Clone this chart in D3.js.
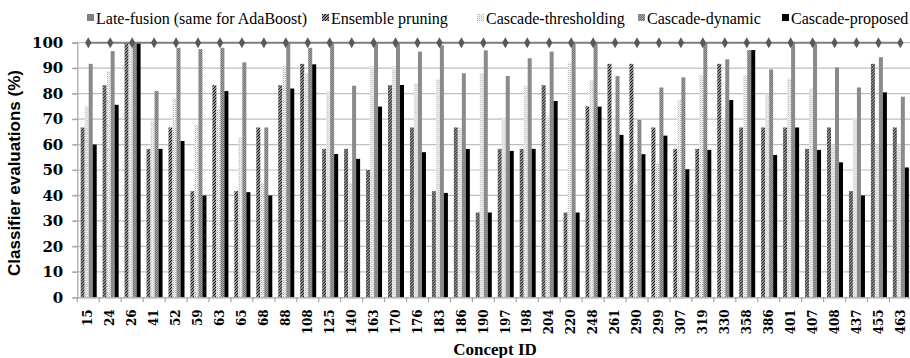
<!DOCTYPE html>
<html><head><meta charset="utf-8">
<script src="https://cdn.jsdelivr.net/npm/d3@7"></script>
<style>body{margin:0;background:#fff}svg{display:block}</style>
</head><body>
<svg id="chart" width="910" height="358"></svg>
<script>
const categories = ["15","24","26","41","52","59","63","65","68","88","108","125","140","163","170","176","183","186","190","197","198","204","220","248","261","290","299","307","319","330","358","386","401","407","408","437","455","463"];
const lateFusion = [100,100,100,100,100,100,100,100,100,100,100,100,100,100,100,100,100,100,100,100,100,100,100,100,100,100,100,100,100,100,100,100,100,100,100,100,100,100];
const ensemblePruning = [66.7,83.3,100,58.3,66.7,41.7,83.3,41.7,66.7,83.3,91.7,58.3,58.3,50,83.3,66.7,41.7,66.7,33.3,58.3,58.3,83.3,33.3,75,91.7,91.7,66.7,58.3,58.3,91.7,66.7,66.7,66.7,58.3,66.7,41.7,91.7,66.7];
const cascadeThresholding = [75,88.9,100,69.4,78,67.7,74,63,45,90.8,88,80.8,45,90.8,90.8,84,85.6,66.7,88,70.3,83,71,92.2,85.2,57.3,45,52.7,77.5,87.3,70,87.3,80,85.9,82,60,70,60,60];
const cascadeDynamic = [91.7,96.7,100,81,98,97.5,98,92.3,66.7,100,98,100,83.1,100,100,96.5,99,88,97,86.9,93.9,96.5,100,100,86.9,69.7,82.4,86.4,100,93.5,97.1,89.5,100,100,90.3,82.4,94.3,78.8];
const cascadeProposed = [60,75.6,100,58.3,61.4,40,81,41.3,40,82,91.5,56.3,54.4,74.9,83.4,57,41,58.3,33.3,57.5,58.3,77.1,33.3,74.9,63.8,56.2,63.5,50.3,57.9,77.5,97.1,55.9,66.7,57.9,53,40,80.5,51];
const yTicks = [0,10,20,30,40,50,60,70,80,90,100];
const legendLabels = ["Late-fusion (same for AdaBoost)","Ensemble pruning","Cascade-thresholding","Cascade-dynamic","Cascade-proposed"];

const barSeries = [
  {key:"ep", values: ensemblePruning, fill:"url(#pEP)"},
  {key:"ct", values: cascadeThresholding, fill:"url(#pCT)"},
  {key:"cd", values: cascadeDynamic, fill:"url(#pCD)"},
  {key:"cp", values: cascadeProposed, fill:"#000"}
];

const svg = d3.select("#chart");
const defs = svg.append("defs");
const p1 = defs.append("pattern").attr("id","pEP").attr("patternUnits","userSpaceOnUse").attr("width",3).attr("height",3);
p1.append("rect").attr("width",3).attr("height",3).attr("fill","#fff");
p1.append("path").attr("d","M0,3 L3,0 M-1,1 L1,-1 M2,4 L4,2").attr("stroke","#111").attr("stroke-width",1.3);
const p2 = defs.append("pattern").attr("id","pCT").attr("patternUnits","userSpaceOnUse").attr("width",2).attr("height",2);
p2.append("rect").attr("width",2).attr("height",2).attr("fill","#ffffff");
p2.append("rect").attr("width",1).attr("height",1).attr("fill","#b0b0b0");
p2.append("rect").attr("x",1).attr("y",1).attr("width",1).attr("height",1).attr("fill","#d8d8d8");
const p3 = defs.append("pattern").attr("id","pCD").attr("patternUnits","userSpaceOnUse").attr("width",2).attr("height",2);
p3.append("rect").attr("width",2).attr("height",2).attr("fill","#6f6f6f");
p3.append("rect").attr("width",1).attr("height",1).attr("fill","#a6a6a6");
p3.append("rect").attr("x",1).attr("y",1).attr("width",1).attr("height",1).attr("fill","#a6a6a6");

const plotL = 77.3, plotR = 911.4, plotT = 42.7, plotB = 297.3;
const x = d3.scaleBand().domain(categories).range([plotL, plotR]).paddingInner(0).paddingOuter(0);
const x1 = d3.scaleBand().domain(barSeries.map(s=>s.key)).range([3.4, 19.4]);
const y = d3.scaleLinear().domain([0,100]).range([plotB, plotT]);

svg.append("g").selectAll("line").data(yTicks.filter(t=>t>0)).join("line")
  .attr("x1", plotL-5).attr("x2", plotR).attr("y1", d=>y(d)).attr("y2", d=>y(d))
  .attr("stroke","#bfbfbf").attr("stroke-width",1.2);

const groups = svg.append("g").selectAll("g").data(categories).join("g")
  .attr("transform", d=>`translate(${x(d)},0)`);
groups.selectAll("rect").data((d,i)=>barSeries.map(s=>({key:s.key, fill:s.fill, v:s.values[i]}))).join("rect")
  .attr("x", d=>x1(d.key)).attr("width", x1.bandwidth())
  .attr("y", d=>y(d.v)).attr("height", d=>plotB - y(d.v))
  .attr("fill", d=>d.fill);

const serif = "'DejaVu Serif', 'Liberation Serif', serif";
const yAxis = d3.axisLeft(y).tickValues(yTicks).tickSize(5).tickPadding(8);
const gy = svg.append("g").attr("transform",`translate(${plotL},0)`).call(yAxis);
gy.select(".domain").attr("stroke","#a6a6a6").attr("stroke-width",1.2);
gy.selectAll(".tick line").attr("stroke","#a6a6a6").attr("stroke-width",1.2);
gy.selectAll(".tick text").style("font-family",serif).style("font-weight","bold").style("font-size","15px").attr("fill","#000").attr("x",-14);

const xAxis = d3.axisBottom(x).tickSize(0).tickPadding(6);
const gx = svg.append("g").attr("transform",`translate(0,${plotB})`).call(xAxis);
gx.select(".domain").attr("stroke","#a6a6a6").attr("stroke-width",1.2);
gx.selectAll(".tick text").style("font-family",serif).style("font-weight","bold").style("font-size","12px").attr("fill","#000")
  .attr("transform","rotate(-90)").attr("text-anchor","end").attr("dx","-12").attr("dy","0.35em").attr("x",0).attr("y",0);
svg.append("g").selectAll("line").data(categories.concat(["__end"])).join("line")
  .attr("x1", (d,i)=> i<categories.length ? x(d) : plotR)
  .attr("x2", (d,i)=> i<categories.length ? x(d) : plotR)
  .attr("y1", plotB).attr("y2", plotB+5).attr("stroke","#a6a6a6").attr("stroke-width",1.2);

const line = d3.line().x((d,i)=>x(categories[i])+x.bandwidth()/2).y(d=>y(d));
svg.append("path").datum(lateFusion).attr("d", line).attr("fill","none").attr("stroke","#7f7f7f").attr("stroke-width",2);
svg.append("g").selectAll("path").data(lateFusion).join("path")
  .attr("transform",(d,i)=>`translate(${x(categories[i])+x.bandwidth()/2},${y(d)})`)
  .attr("d", d3.symbol(d3.symbolDiamond, 34)).attr("fill","#595959");

svg.append("text").attr("transform","translate(20,173) rotate(-90)").attr("text-anchor","middle")
  .style("font-family","'Liberation Sans', Arial, sans-serif").style("font-weight","bold").style("font-size","17px").text("Classifier evaluations (%)");
svg.append("text").attr("x",495).attr("y",355).attr("text-anchor","middle")
  .style("font-family","'Liberation Serif', serif").style("font-weight","bold").style("font-size","17px").text("Concept ID");

const legendX = [87, 322, 477, 638, 782];
const legendFill = ["#7f7f7f","url(#pEP)","url(#pCT)","url(#pCD)","#000"];
const lg = svg.append("g").selectAll("g").data(legendLabels).join("g")
  .attr("transform",(d,i)=>`translate(${legendX[i]},0)`);
lg.append("rect").attr("x",0).attr("y",14).attr("width",7).attr("height",7).attr("fill",(d,i)=>legendFill[i]);
lg.append("text").attr("x",9).attr("y",24).style("font-family","'Liberation Serif', serif").style("font-size","16px").attr("fill","#000").text(d=>d);
</script>
</body></html>
